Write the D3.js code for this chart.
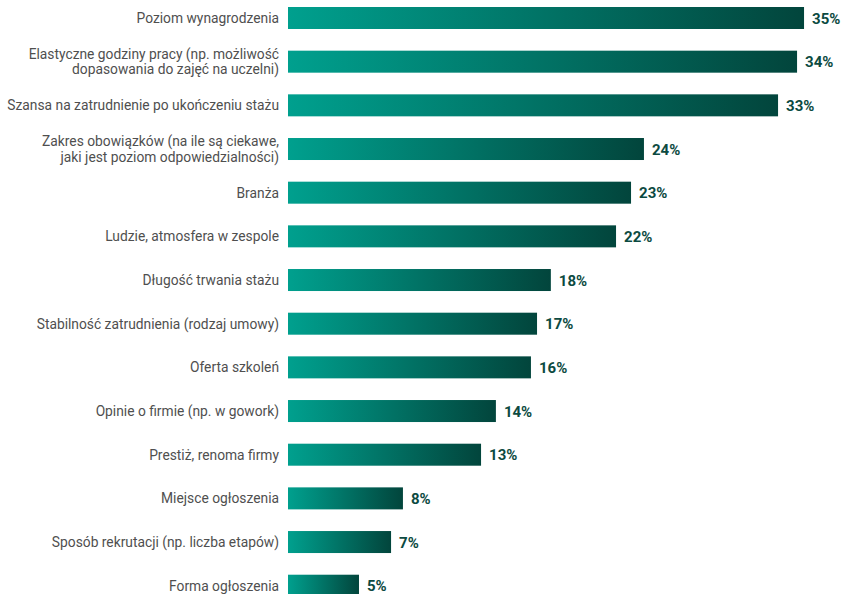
<!DOCTYPE html>
<html>
<head>
<meta charset="utf-8">
<script src="https://cdn.jsdelivr.net/npm/d3@7"></script>
<style>
  html, body { margin: 0; padding: 0; background: #fff; }
  svg { display: block; }
</style>
</head>
<body>
<svg id="chart" width="844" height="594"></svg>
<script>
const categories = [
  ["Poziom wynagrodzenia"],
  ["Elastyczne godziny pracy (np. możliwość", "dopasowania do zajęć na uczelni)"],
  ["Szansa na zatrudnienie po ukończeniu stażu"],
  ["Zakres obowiązków (na ile są ciekawe,", "jaki jest poziom odpowiedzialności)"],
  ["Branża"],
  ["Ludzie, atmosfera w zespole"],
  ["Długość trwania stażu"],
  ["Stabilność zatrudnienia (rodzaj umowy)"],
  ["Oferta szkoleń"],
  ["Opinie o firmie (np. w gowork)"],
  ["Prestiż, renoma firmy"],
  ["Miejsce ogłoszenia"],
  ["Sposób rekrutacji (np. liczba etapów)"],
  ["Forma ogłoszenia"]
];
const values = [34.75, 34.28, 33.0, 23.97, 23.1, 22.09, 17.7, 16.77, 16.36, 14.0, 13.0, 7.74, 6.94, 4.78];
const valueLabels = ["35%", "34%", "33%", "24%", "23%", "22%", "18%", "17%", "16%", "14%", "13%", "8%", "7%", "5%"];

const svg = d3.select("#chart");
const x0 = 288, pxPerUnit = 14.85, xMax = 36;
const x = d3.scaleLinear().domain([0, xMax]).range([x0, x0 + pxPerUnit * xMax]);
const step = 43.67, barH = 22;
const y = d3.scaleBand().domain(d3.range(categories.length))
  .range([7 - (step - barH) / 2, 7 - (step - barH) / 2 + step * categories.length])
  .paddingInner(1 - barH / step).paddingOuter((1 - barH / step) / 2);

const defs = svg.append("defs");
const grad = defs.append("linearGradient").attr("id", "barGrad")
  .attr("x1", "0").attr("y1", "0").attr("x2", "1").attr("y2", "0");
grad.append("stop").attr("offset", "0%").attr("stop-color", "#00a08e");
grad.append("stop").attr("offset", "100%").attr("stop-color", "#02453c");

const rows = svg.append("g").selectAll("g").data(values).join("g");

rows.append("rect")
  .attr("x", x(0))
  .attr("y", (d, i) => y(i))
  .attr("width", d => x(d) - x(0))
  .attr("height", y.bandwidth())
  .attr("fill", "url(#barGrad)");

rows.append("text")
  .attr("x", d => x(d) + 8)
  .attr("y", (d, i) => y(i) + y.bandwidth() / 2)
  .attr("dy", "0.38em")
  .attr("font-family", "Roboto, 'Open Sans', sans-serif")
  .attr("font-weight", "bold")
  .attr("font-size", 15)
  .attr("fill", "#0c4a41")
  .text((d, i) => valueLabels[i]);

const lab = rows.append("text")
  .attr("text-anchor", "end")
  .attr("font-family", "Roboto, 'Open Sans', sans-serif")
  .attr("font-size", 13.8)
  .attr("fill", "#4f4f4f");

lab.each(function(d, i) {
  const lines = categories[i];
  const cy = y(i) + y.bandwidth() / 2;
  const lh = 15.5;
  const t = d3.select(this);
  lines.forEach((ln, j) => {
    t.append("tspan")
      .attr("x", 279)
      .attr("y", cy + (j - (lines.length - 1) / 2) * lh)
      .attr("dy", "0.35em")
      .text(ln);
  });
});
</script>
</body>
</html>
